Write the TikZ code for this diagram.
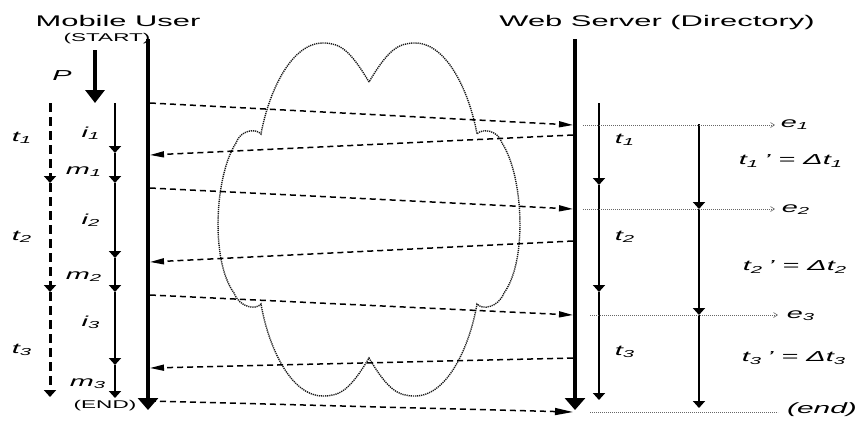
\documentclass[tikz,border=0pt]{standalone}
\usepackage{fontspec}
\setmainfont{Liberation Sans}
\usepackage{graphicx}
\usetikzlibrary{arrows.meta}
\newcommand\wx[1]{\scalebox{2}[1]{#1}}
\begin{document}
\begin{tikzpicture}[x=1bp,y=-1bp,
  ttl/.style={inner sep=0pt, font=\fontsize{15.5}{16}\selectfont},
  smalltxt/.style={inner sep=0pt, font=\fontsize{11.3}{12}\selectfont},
  lbl/.style={inner sep=0pt, font=\fontsize{14.5}{15}\selectfont\itshape},
  mainline/.style={line width=4bp, -{Triangle[length=12bp,width=20bp]}},
  seg/.style={line width=2.2bp, -{Triangle[length=7bp,width=12bp]}},
  dseg/.style={line width=3bp, dash pattern=on 9bp off 5bp, -{Triangle[length=7bp,width=12bp]}},
  msg/.style={line width=1.5bp, dash pattern=on 6bp off 4bp, -{Triangle[length=14bp,width=6bp]}},
  evt/.style={line width=0.6bp, black!60, dash pattern=on 1bp off 1bp, -{Straight Barb[length=4bp,width=5bp]}},
  evtend/.style={line width=0.6bp, black!60, dash pattern=on 1bp off 1bp},
  cloudline/.style={line width=1.4bp, black!90, dash pattern=on 1.2bp off 0.9bp}
]
\useasboundingbox (0,0) rectangle (858,420);

% titles
\node[ttl, anchor=base] (mu) at (118,26) {\wx{Mobile User}};
\node[ttl, anchor=base] (ws) at (657,26) {\wx{Web Server (Directory)}};
\node[smalltxt, anchor=base] (start) at (107,41) {\wx{(START)}};
\node[smalltxt] (end) at (105,406) {\wx{(END)}};

% cloud
\draw[cloudline] (369,82) .. controls (350,50) and (340,43) .. (323,43)
  .. controls (290,43) and (268,95) .. (261,134)
  .. controls (256,128) and (240,130) .. (236,143)
  .. controls (215,175) and (210,260) .. (234,293)
  .. controls (240,308) and (256,310) .. (261,304)
  .. controls (268,345) and (290,396) .. (323,396)
  .. controls (340,396) and (350,390) .. (369,358)
  .. controls (388,390) and (398,396) .. (415,396)
  .. controls (448,396) and (470,345) .. (477,304)
  .. controls (482,310) and (498,308) .. (504,293)
  .. controls (528,260) and (523,175) .. (502,143)
  .. controls (498,130) and (482,128) .. (477,134)
  .. controls (470,95) and (448,43) .. (415,43)
  .. controls (398,43) and (388,50) .. (369,82) -- cycle;

% coordinates
\coordinate (mtop) at (148,39); \coordinate (mbot) at (148,410);
\coordinate (stop) at (575,39); \coordinate (sbot) at (575,410);
\coordinate (ptop) at (95,50); \coordinate (pbot) at (95,103);
\foreach \n/\y in {0/103,1/153,2/183,3/258,4/292,5/365,6/398} \coordinate (i\n) at (115,\y);
\foreach \n/\y in {0/103,1/183,2/292,3/397} \coordinate (lt\n) at (50,\y);
\foreach \n/\y in {0/103,1/185,2/292,3/400} \coordinate (rt\n) at (599,\y);
\foreach \n/\y in {0/124,1/209,2/315,3/408} \coordinate (dt\n) at (699,\y);

% main lines
\draw[mainline] (mtop) -- (mbot);
\draw[mainline] (stop) -- (sbot);
\draw[line width=4bp, -{Triangle[length=13bp,width=19bp]}] (ptop) -- (pbot);
\node[lbl] (plbl) at (62,76) {\wx{P}};

% i / m line
\draw[seg] (i0) -- (i1);
\draw[seg] (i1) -- (i2);
\draw[seg] (i2) -- (i3);
\draw[seg] (i3) -- (i4);
\draw[seg] (i4) -- (i5);
\draw[seg] (i5) -- (i6);
% left dashed t line
\draw[dseg] (lt0) -- (lt1);
\draw[dseg] (lt1) -- (lt2);
\draw[dseg] (lt2) -- (lt3);
% server t line
\draw[seg] (rt0) -- (rt1);
\draw[seg] (rt1) -- (rt2);
\draw[seg] (rt2) -- (rt3);
% delta line
\draw[seg] (dt0) -- (dt1);
\draw[seg] (dt1) -- (dt2);
\draw[seg] (dt2) -- (dt3);

% messages
\coordinate (a1) at (150,103); \coordinate (b1) at (573,125);
\coordinate (b2) at (573,135); \coordinate (a2) at (150,155);
\coordinate (a3) at (150,188); \coordinate (b3) at (573,209);
\coordinate (b4) at (573,241); \coordinate (a4) at (150,262);
\coordinate (a5) at (150,295); \coordinate (b5) at (573,315);
\coordinate (b6) at (573,358); \coordinate (a6) at (150,368);
\coordinate (a7) at (150,401); \coordinate (b7) at (573,412);
\draw[msg] (a1) -- (b1);
\draw[msg] (b2) -- (a2);
\draw[msg] (a3) -- (b3);
\draw[msg] (b4) -- (a4);
\draw[msg] (a5) -- (b5);
\draw[msg] (b6) -- (a6);
\draw[msg, -{Triangle[length=18bp,width=7bp]}] (a7) -- (b7);

% event lines
\node[lbl] (e1) at (795,125) {\wx{e\textsubscript{1}}};
\node[lbl] (e2) at (796,210) {\wx{e\textsubscript{2}}};
\node[lbl] (e3) at (801,316) {\wx{e\textsubscript{3}}};
\node[lbl, font=\fontsize{15}{16}\selectfont\itshape] (eend) at (822,410) {\wx{(end)}};
\coordinate (e1s) at (583,125); \coordinate (e1e) at (775,125);
\coordinate (e2s) at (583,209); \coordinate (e2e) at (775,209);
\coordinate (e3s) at (590,315); \coordinate (e3e) at (778,315);
\coordinate (ees) at (590,412); \coordinate (eee) at (778,412);
\draw[evt] (e1s) -- (e1e);
\draw[evt] (e2s) -- (e2e);
\draw[evt] (e3s) -- (e3e);
\draw[evtend] (ees) -- (eee);

% labels left
\node[lbl] (lt1l) at (22,138) {\wx{t\textsubscript{1}}};
\node[lbl] (lt2l) at (22,237) {\wx{t\textsubscript{2}}};
\node[lbl] (lt3l) at (22,350) {\wx{t\textsubscript{3}}};
\node[lbl] (i1l) at (91,133) {\wx{i\textsubscript{1}}};
\node[lbl] (m1l) at (84,172) {\wx{m\textsubscript{1}}};
\node[lbl] (i2l) at (91,220) {\wx{i\textsubscript{2}}};
\node[lbl] (m2l) at (84,277) {\wx{m\textsubscript{2}}};
\node[lbl] (i3l) at (91,322) {\wx{i\textsubscript{3}}};
\node[lbl] (m3l) at (88,384) {\wx{m\textsubscript{3}}};

% labels right
\node[lbl] (rt1l) at (625,140) {\wx{t\textsubscript{1}}};
\node[lbl] (rt2l) at (625,237) {\wx{t\textsubscript{2}}};
\node[lbl] (rt3l) at (625,352) {\wx{t\textsubscript{3}}};
\node[lbl] (d1l) at (791,161) {\wx{t\textsubscript{1}\,'\ =\ Δt\textsubscript{1}}};
\node[lbl] (d2l) at (795,267) {\wx{t\textsubscript{2}\,'\ =\ Δt\textsubscript{2}}};
\node[lbl] (d3l) at (794,358) {\wx{t\textsubscript{3}\,'\ =\ Δt\textsubscript{3}}};
\end{tikzpicture}
\end{document}
